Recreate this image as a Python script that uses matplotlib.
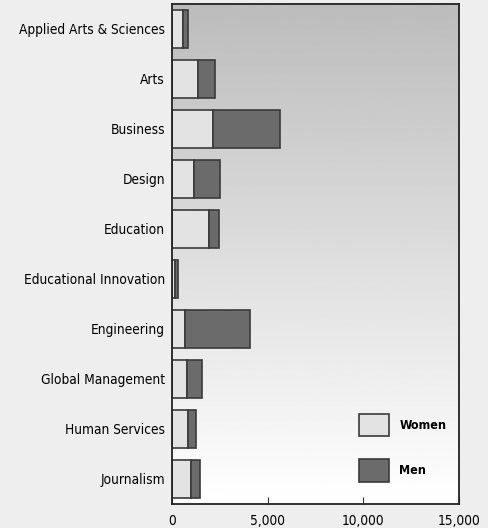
import matplotlib
matplotlib.use("Agg")
import matplotlib.pyplot as plt
import numpy as np

colleges = ["Applied Arts & Sciences", "Arts", "Business", "Design", "Education",
            "Educational Innovation", "Engineering", "Global Management",
            "Human Services", "Journalism"]
women = [560, 1340, 2130, 1170, 1920, 150, 680, 780, 820, 1010]
men = [280, 890, 3500, 1360, 520, 180, 3400, 790, 430, 450]
xticks = [0, 5000, 10000, 15000]

plt.rcParams["font.family"] = ["DejaVu Sans"]
plt.rcParams["font.stretch"] = "condensed"

fig = plt.figure(figsize=(4.89, 5.28), dpi=100, facecolor="#eeeeee")
ax = fig.add_axes([172 / 489, 24 / 528, 287 / 489, 500 / 528])

# background gradient, dark at top
grad = np.linspace(0, 1, 256).reshape(-1, 1)
ax.imshow(grad, aspect="auto", cmap="gray", vmin=-2.8, vmax=1.0,
          extent=[0, 15000, len(colleges) - 0.5, -0.5], zorder=0,
          interpolation="bilinear", origin="upper")

y = np.arange(len(colleges))
ax.barh(y, women, height=0.76, color="#e3e3e3", edgecolor="#3a3a3a",
        linewidth=1.2, label="Women", zorder=2)
ax.barh(y, men, left=women, height=0.76, color="#6b6b6b", edgecolor="#3a3a3a",
        linewidth=1.2, label="Men", zorder=2)

ax.set_xlim(0, 15000)
ax.set_ylim(len(colleges) - 0.5, -0.5)
ax.set_yticks(y)
ax.set_yticklabels(colleges, fontsize=9.8)
ax.set_xticks(xticks)
ax.set_xticklabels([f"{v:,}" for v in xticks], fontsize=9.8)
ax.tick_params(axis="y", length=0, pad=5)
ax.tick_params(axis="x", direction="in", length=5, color="#333333", pad=7)
for s in ax.spines.values():
    s.set_color("#222222")
    s.set_linewidth(1.3)

ax.legend(loc="lower right", bbox_to_anchor=(1.0, 0.02), frameon=False,
          handlelength=2.4, handleheight=2.4, labelspacing=1.8,
          handletextpad=0.8, borderaxespad=0.6,
          prop={"family": "DejaVu Sans", "stretch": "condensed",
                "weight": "bold", "size": 9})

fig.savefig("out.png", dpi=100, facecolor=fig.get_facecolor())
